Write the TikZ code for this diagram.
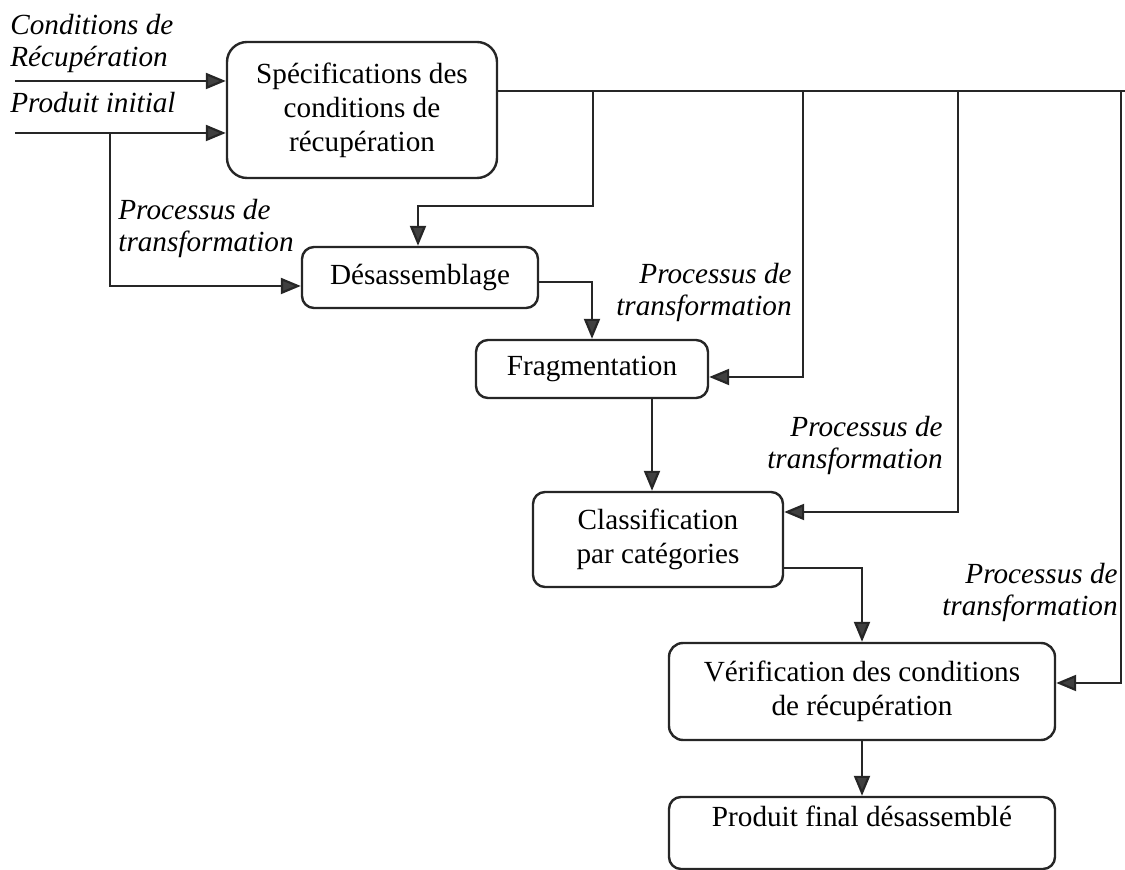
\documentclass[tikz,border=0pt]{standalone}
\usepackage{fontspec}
\setmainfont{Liberation Serif}
\usetikzlibrary{arrows.meta,calc}

\tikzset{
  procbox/.style={draw=black!85, line width=1.2pt, rounded corners=6pt,
    align=center, inner sep=2pt, font=\fontsize{14.6}{17}\selectfont},
  lbl/.style={inner sep=0pt, font=\fontsize{14.6}{16}\selectfont\itshape},
  wire/.style={draw=black!85, line width=1.1pt},
  arr/.style={wire, -{Triangle[length=10pt,width=8pt,fill=black!75]}},
}

\begin{document}
\begin{tikzpicture}[x=0.5pt,y=-0.5pt]
  \useasboundingbox (0,0) rectangle (1125,870);

  % process boxes
  \node[procbox, rounded corners=10pt, minimum width=135pt, minimum height=68pt]
    (spec) at (362,110) {Spécifications des\\conditions de\\récupération};
  \node[procbox, minimum width=118pt, minimum height=30.5pt]
    (desass) at (420,277.5) {Désassemblage};
  \node[procbox, minimum width=116pt, minimum height=29pt]
    (frag) at (592,369) {Fragmentation};
  \node[procbox, minimum width=125pt, minimum height=47.5pt]
    (classif) at (658,539.5) {Classification\\par catégories};
  \node[procbox, rounded corners=7pt, minimum width=193pt, minimum height=48.5pt]
    (verif) at (862,691.5) {Vérification des conditions\\de récupération};
  \node[procbox, minimum width=193pt, minimum height=36pt, text depth=17pt]
    (final) at (862,833) {Produit final désassemblé};

  % labels
  \node[lbl, align=left, anchor=north west] (lcond) at (10,14)
    {Conditions de\\Récupération};
  \node[lbl, anchor=base west] (lprod) at (10,113) {Produit initial};
  \node[lbl, align=left, anchor=north west] (lp1) at (118,199)
    {Processus de\\transformation};
  \node[lbl, align=right, anchor=north east] (lp2) at (792,263)
    {Processus de\\transformation};
  \node[lbl, align=right, anchor=north east] (lp3) at (943,416)
    {Processus de\\transformation};
  \node[lbl, align=right, anchor=north east] (lp4) at (1118,563)
    {Processus de\\transformation};

  % inputs
  \coordinate (in1) at (15,81);
  \coordinate (in2) at (15,133);
  \coordinate (br) at (110,133);
  \draw[arr] (in1) -- (in1 -| spec.west);
  \draw[arr] (in2) -- (in2 -| spec.west);
  \draw[arr] (br) |- ([yshift=-4.25pt]desass.west);

  % distribution bus
  \coordinate (busend) at (1125,91);
  \coordinate (t1) at (593,91);
  \coordinate (t2) at (803,91);
  \coordinate (t3) at (958,91);
  \coordinate (t4) at (1121,91);
  \coordinate (k1) at (418,206);
  \draw[wire] (spec.east |- busend) -- (busend);
  \draw[arr] (t1) |- (k1) -- (k1 |- desass.north);
  \draw[arr] (t2) |- ([yshift=-4pt]frag.east);
  \draw[arr] (t3) |- ([yshift=13.75pt]classif.east);
  \draw[arr] (t4) |- ([yshift=4.25pt]verif.east);

  % main flow
  \draw[arr] ([yshift=-2.25pt]desass.east) -| (frag.north);
  \draw[arr] ([xshift=30pt]frag.south) -- ([xshift=30pt]frag.south |- classif.north);
  \draw[arr] ([yshift=-14.25pt]classif.east) -| (verif.north);
  \draw[arr] (verif.south) -- (final.north);
\end{tikzpicture}
\end{document}
